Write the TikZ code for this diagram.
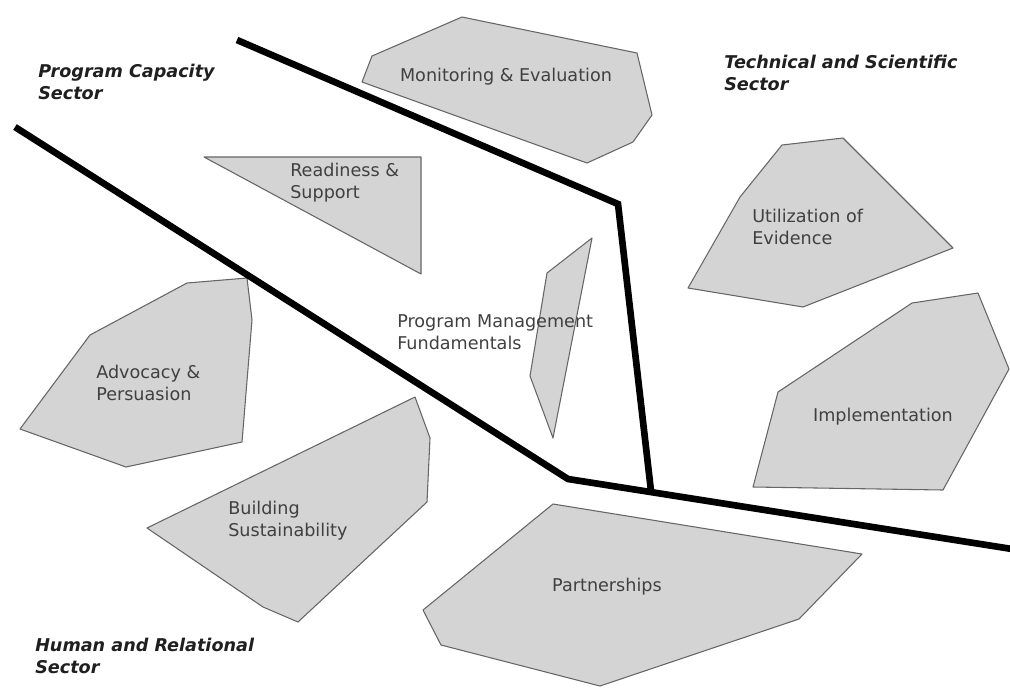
\documentclass[tikz,border=0pt]{standalone}
\usepackage{fontspec}
\setmainfont{DejaVu Sans}

\begin{document}
\begin{tikzpicture}[x=0.75pt,y=-0.75pt,
        region/.style={draw=black!60,fill=black!17,line width=0.8pt,line join=round},
        border/.style={line width=5pt},
        sector/.style={font=\fontsize{13.2}{16.5}\selectfont\bfseries\itshape,
            text=black!88,align=left,anchor=west,inner sep=0pt},
        lbl/.style={font=\fontsize{13.2}{16.5}\selectfont,text=black!75,
            align=left,inner sep=0pt}]
    \useasboundingbox (0,0) rectangle (1010,687);
    % regions
    \draw[region] (462,17) -- (637,53) -- (652,115) -- (633,142) -- (587,163)
        -- (362,82) -- (372,56) -- cycle;
    \draw[region] (204,157) -- (421,157) -- (421,274) -- cycle;
    \draw[region] (592,238) -- (547,273) -- (530,376) -- (553,438) -- cycle;
    \draw[region] (782,145) -- (843,138) -- (953,248) -- (803,307) -- (688,288)
        -- (740,197) -- cycle;
    \draw[region] (912,303) -- (978,293) -- (1009,369) -- (943,490) -- (753,487)
        -- (778,392) -- cycle;
    \draw[region] (187,283) -- (247,278) -- (252,320) -- (242,442) -- (126,467)
        -- (20,429) -- (90,335) -- cycle;
    \draw[region] (415,397) -- (430,438) -- (427,502) -- (298,622) -- (263,607)
        -- (147,528) -- cycle;
    \draw[region] (553,504) -- (862,554) -- (799,619) -- (600,686) -- (441,645)
        -- (423,610) -- cycle;
    % sector borders
    \coordinate (a1) at (237,40);
    \coordinate (a2) at (618,204);
    \coordinate (b1) at (15,127);
    \coordinate (b2) at (568,479);
    \coordinate (b3) at (1012,549);
    \coordinate (j) at (651,491);
    \draw[border] (a1) -- (a2) -- (j);
    \draw[border] (b1) -- (b2) -- (b3);
    % labels
    \node[sector] (capacity) at (38,82) {Program Capacity\\Sector};
    \node[sector] (technical) at (724,73) {Technical and Scientific\\Sector};
    \node[sector] (human) at (35,656) {Human and Relational\\Sector};
    \node[lbl] (monitor) at (506,77) {Monitoring \& Evaluation};
    \node[lbl,anchor=west] (ready) at (290,183) {Readiness \&\\Support};
    \node[lbl,anchor=west] (util) at (752,227) {Utilization of\\Evidence};
    \node[lbl,anchor=west] (pmf) at (397,332) {Program Management\\Fundamentals};
    \node[lbl,anchor=west] (advocacy) at (96,383) {Advocacy \&\\Persuasion};
    \node[lbl] (impl) at (883,417) {Implementation};
    \node[lbl,anchor=west] (build) at (228,521) {Building\\Sustainability};
    \node[lbl] (partner) at (607,587) {Partnerships};
\end{tikzpicture}
\end{document}
